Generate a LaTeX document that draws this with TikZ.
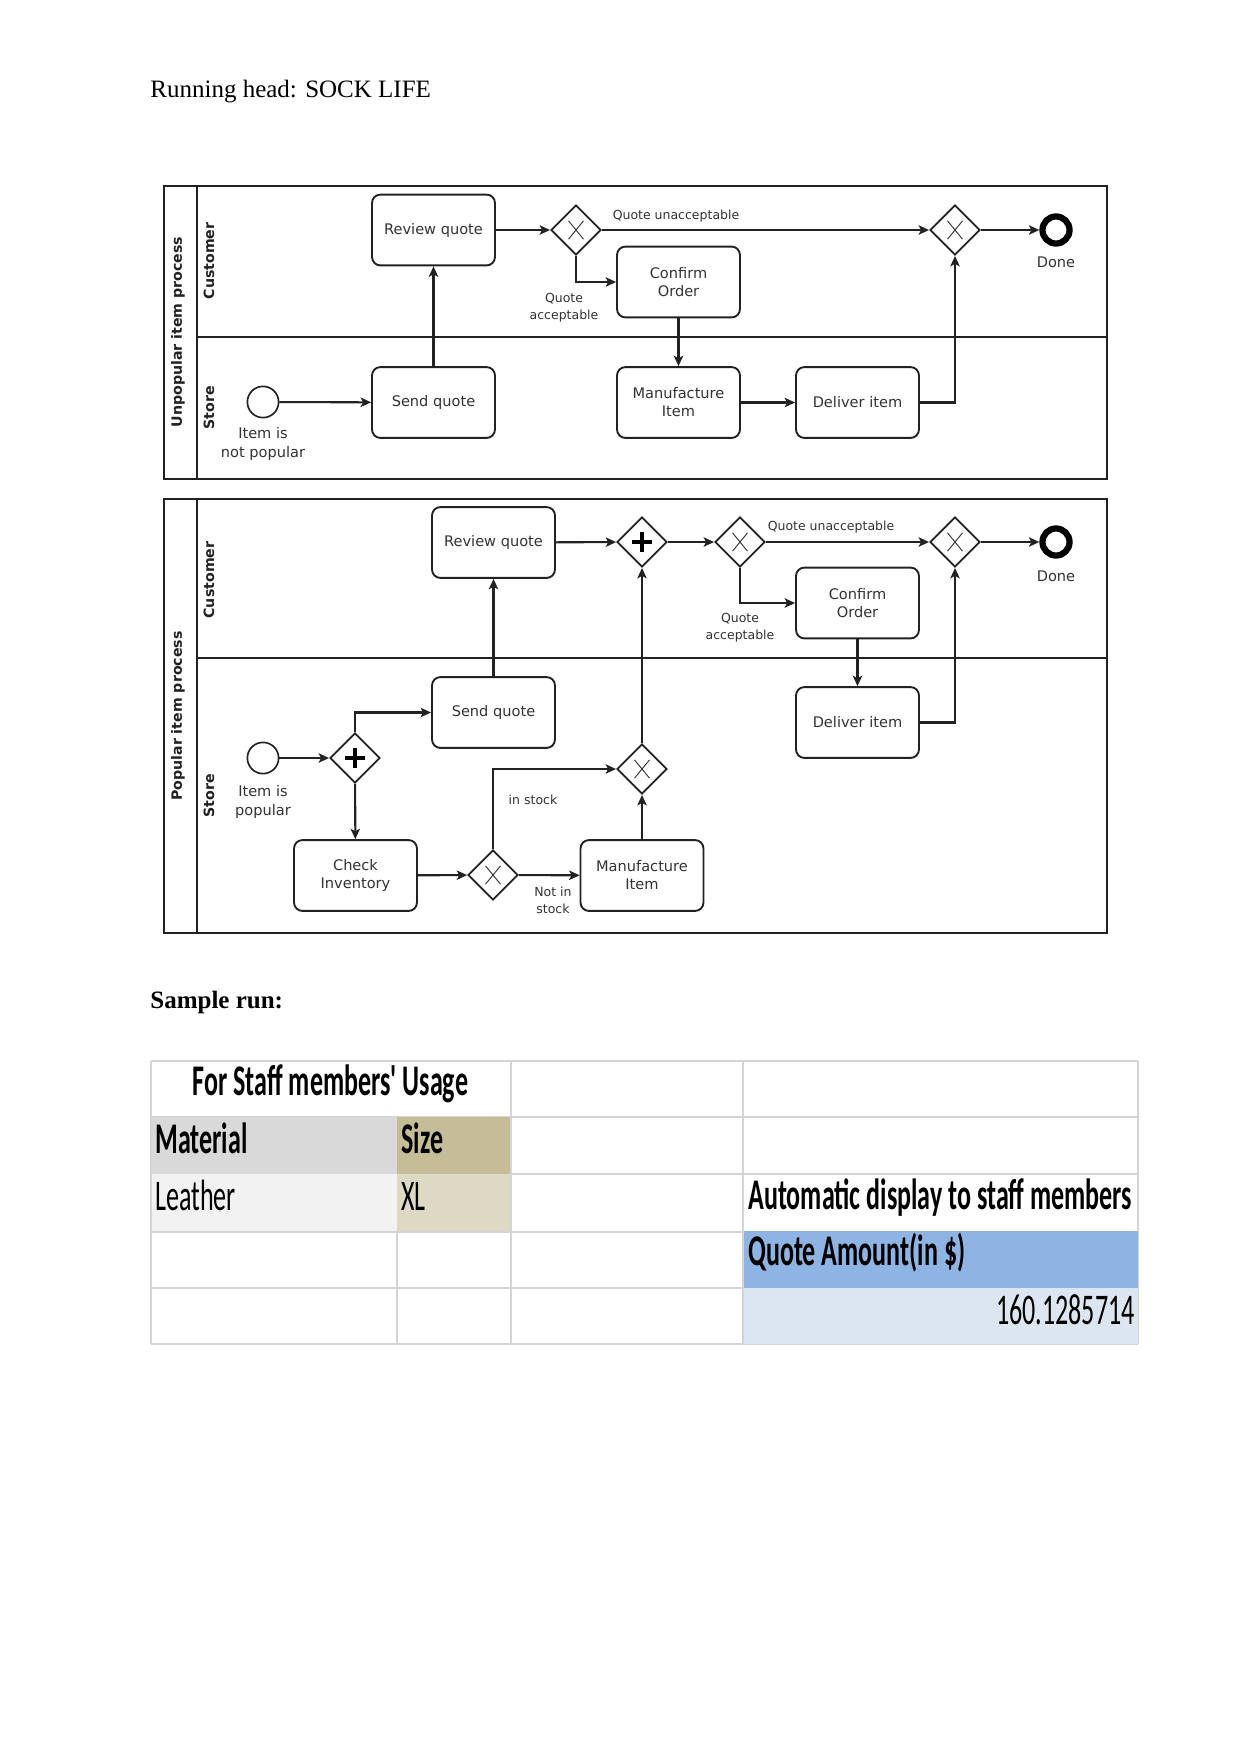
\documentclass[tikz,border=0pt]{standalone}
\usepackage{fontspec}
\setmainfont{Liberation Serif}
\newfontfamily\dvf{DejaVu Sans}
\newfontfamily\cbf{Carlito}[Ligatures=TeXOff]
\usetikzlibrary{shapes.geometric,arrows.meta}
\newcommand\cnd[1]{\scalebox{0.595}[1]{#1}}
\definecolor{gridc}{HTML}{D4D4D4}
\definecolor{matc}{HTML}{D9D9D9}
\definecolor{sizc}{HTML}{C4BD97}
\definecolor{leac}{HTML}{F2F2F2}
\definecolor{xlc}{HTML}{DDD9C4}
\definecolor{qac}{HTML}{8DB4E2}
\definecolor{numc}{HTML}{DCE6F1}
\definecolor{inkc}{HTML}{222222}
\definecolor{txtc}{HTML}{333333}
\tikzset{
  poolline/.style={draw=inkc, line width=1pt},
  poollbl/.style={font=\dvf\bfseries\fontsize{6.8}{8}\selectfont, rotate=90, text=inkc, inner sep=0pt},
  task/.style={draw=inkc, line width=0.9pt, rounded corners=4pt, minimum width=59pt, minimum height=34pt,
    align=center, font=\dvf\fontsize{7}{8.6}\selectfont, text=txtc, inner sep=1pt},
  gw/.style={diamond, draw=inkc, line width=0.9pt, minimum width=24pt, minimum height=24pt, inner sep=0pt, fill=white},
  xgw/.style={gw, path picture={
    \draw[line width=0.45pt, draw=txtc] ([shift={(-3.6pt,-4.4pt)}]path picture bounding box.center) -- ([shift={(3.6pt,4.4pt)}]path picture bounding box.center);
    \draw[line width=0.45pt, draw=txtc] ([shift={(-3.6pt,4.4pt)}]path picture bounding box.center) -- ([shift={(3.6pt,-4.4pt)}]path picture bounding box.center);}},
  pgw/.style={gw, path picture={
    \draw[line width=1.6pt, draw=black] ([shift={(-4.6pt,0pt)}]path picture bounding box.center) -- ([shift={(4.6pt,0pt)}]path picture bounding box.center);
    \draw[line width=1.6pt, draw=black] ([shift={(0pt,-4.6pt)}]path picture bounding box.center) -- ([shift={(0pt,4.6pt)}]path picture bounding box.center);}},
  startev/.style={circle, draw=inkc, line width=0.8pt, minimum size=15pt, inner sep=0pt},
  endev/.style={circle, draw=black, line width=3pt, minimum size=13pt, inner sep=0pt},
  flow/.style={draw=inkc, line width=1pt, -{Stealth[length=5pt,width=4.5pt,inset=1.2pt]}},
  lbl/.style={font=\dvf\fontsize{6}{8.2}\selectfont, text=txtc, align=center, inner sep=0pt},
  lbls/.style={font=\dvf\fontsize{7}{8.7}\selectfont, text=txtc, align=center, inner sep=0pt},
  tcell/.style={inner sep=0pt, text=black},
  tb/.style={tcell, font=\cbf\bfseries\fontsize{21}{24}\selectfont},
  tr/.style={tcell, font=\cbf\fontsize{21}{24}\selectfont},
  gridl/.style={draw=gridc, line width=1pt},
}
\begin{document}
\begin{tikzpicture}[x=0.48pt,y=-0.48pt]
\useasboundingbox[fill=white] (0,0) rectangle (1241,1754);

\node[anchor=base west, font=\fontsize{12}{14}\selectfont, inner sep=0pt] (head) at (150,97) {Running head: SOCK LIFE};

% ---------------- Pool 1 ----------------
\draw[poolline] (164,186) rectangle (1107,479);
\draw[poolline] (197,186) -- (197,479);
\draw[poolline] (197,337) -- (1107,337);
\node[poollbl] (p1) at (178,332) {Unpopular item process};
\node[poollbl] (p1c) at (209,261) {Customer};
\node[poollbl] (p1s) at (209,408) {Store};

\node[startev] (s1) at (263,402) {};
\node[lbls] (s1l) at (263,444) {Item is\\not popular};
\node[task] (sq1) at (433.5,402.5) {Send quote};
\node[task] (rq1) at (433.5,230) {Review quote};
\node[xgw] (g1) at (576,230) {};
\node[task] (co1) at (678.5,282) {Confirm\\Order};
\node[task] (mi1) at (678.5,402.5) {Manufacture\\Item};
\node[task] (di1) at (857.5,402.5) {Deliver item};
\node[xgw] (g2) at (955,230) {};
\node[endev] (e1) at (1056,230) {};
\node[lbls] (e1l) at (1056,262) {Done};
\node[lbl] (qu1) at (676,216) {Quote unacceptable};
\node[lbl] (qa1) at (564,308) {Quote\\acceptable};

\draw[flow] (s1) -- (sq1);
\draw[flow] (sq1) -- (rq1);
\draw[flow] (rq1) -- (g1);
\draw[flow] (g1) -- (g2);
\draw[flow] (g1.south) |- (co1.west);
\draw[flow] (co1) -- (mi1);
\draw[flow] (mi1) -- (di1);
\draw[flow] (di1.east) -| (g2.south);
\draw[flow] (g2) -- (e1);

% ---------------- Pool 2 ----------------
\draw[poolline] (164,499) rectangle (1107,933);
\draw[poolline] (197,499) -- (197,933);
\draw[poolline] (197,658) -- (1107,658);
\node[poollbl] (p2) at (178,716) {Popular item process};
\node[poollbl] (p2c) at (209,580) {Customer};
\node[poollbl] (p2s) at (209,796) {Store};

\node[startev] (s2) at (263,758) {};
\node[lbls] (s2l) at (263,802) {Item is\\popular};
\node[pgw] (pl1) at (355,758) {};
\node[task] (sq2) at (493.5,712.5) {Send quote};
\node[task] (rq2) at (493.5,542.5) {Review quote};
\node[task] (ci) at (355.5,875.5) {Check\\Inventory};
\node[xgw] (g3) at (493,875) {};
\node[task] (mi2) at (642,875.5) {Manufacture\\Item};
\node[xgw] (g4) at (642,769) {};
\node[pgw] (pl2) at (642,542) {};
\node[xgw] (g5) at (740,542) {};
\node[xgw] (g6) at (955,542) {};
\node[endev] (e2) at (1056,542) {};
\node[lbls] (e2l) at (1056,576) {Done};
\node[task] (co2) at (857.5,603) {Confirm\\Order};
\node[task] (di2) at (857.5,722.5) {Deliver item};
\node[lbl] (qu2) at (831,527) {Quote unacceptable};
\node[lbl] (qa2) at (740,628) {Quote\\acceptable};
\node[lbl] (ins) at (533,800) {in stock};
\node[lbl] (nis) at (553,900) {Not in\\stock};

\draw[flow] (s2) -- (pl1);
\draw[flow] (pl1.north) |- (sq2.west);
\draw[flow] (pl1) -- (ci);
\draw[flow] (ci) -- (g3);
\draw[flow] (g3.north) |- (g4.west);
\draw[flow] (g3) -- (mi2);
\draw[flow] (mi2) -- (g4);
\draw[flow] (g4) -- (pl2);
\draw[flow] (sq2) -- (rq2);
\draw[flow] (rq2) -- (pl2);
\draw[flow] (pl2) -- (g5);
\draw[flow] (g5) -- (g6);
\draw[flow] (g5.south) |- (co2.west);
\draw[flow] (co2) -- (di2);
\draw[flow] (di2.east) -| (g6.south);
\draw[flow] (g6) -- (e2);

% ---------------- Sample run ----------------
\node[anchor=base west, font=\bfseries\fontsize{12}{14}\selectfont, inner sep=0pt] (sr) at (150,1008) {Sample run:};

% table grid
\foreach \yy in {1061,1117,1174,1232,1288,1344} \draw[gridl] (151,\yy) -- (1138,\yy);
\draw[gridl] (151,1061) -- (151,1344);
\draw[gridl] (397,1117) -- (397,1344);
\draw[gridl] (511,1061) -- (511,1344);
\draw[gridl] (743,1061) -- (743,1344);
\draw[gridl] (1138,1061) -- (1138,1344);
% fills
\fill[matc] (152,1117) rectangle (397,1174);
\fill[sizc] (397,1117) rectangle (510,1174);
\fill[leac] (152,1174) rectangle (397,1231);
\fill[xlc] (397,1174) rectangle (510,1231);
\fill[qac] (744,1231) rectangle (1138,1288);
\fill[numc] (744,1288) rectangle (1138,1344);
% texts
\node[tb, anchor=base] (fst) at (330.5,1095) {\cnd{For Staff members' Usage}};
\node[tb, anchor=base west] (mat) at (155,1153) {\cnd{Material}};
\node[tb, anchor=base west] (siz) at (401,1153) {\cnd{Size}};
\node[tr, anchor=base west] (lea) at (155,1210) {\cnd{Leather}};
\node[tr, anchor=base west] (xl) at (401,1210) {\cnd{XL}};
\node[tb, anchor=base west] (adm) at (748,1209) {\cnd{Automatic display to staff members}};
\node[tb, anchor=base west] (qam) at (748,1265) {\cnd{Quote Amount(in \$)}};
\node[tr, anchor=base east] (num) at (1135,1324) {\cnd{160.1285714}};
\end{tikzpicture}
\end{document}
